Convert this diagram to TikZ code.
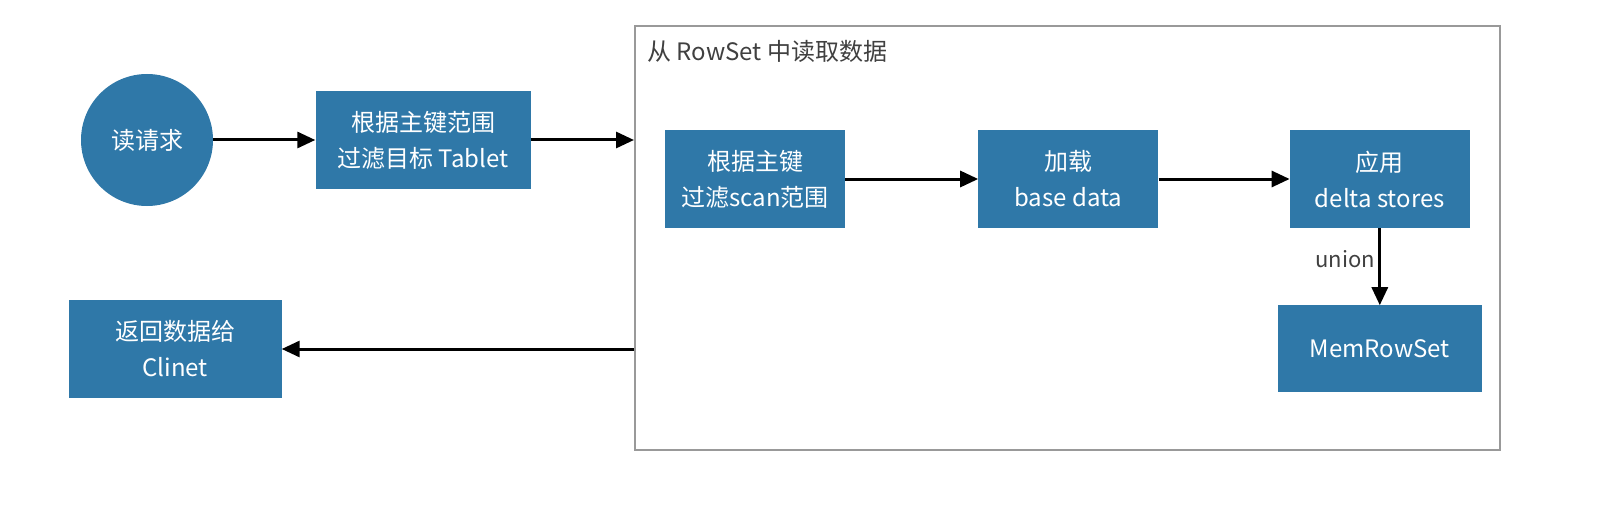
\documentclass[tikz,border=0pt]{standalone}
\usepackage{fontspec}
\setmainfont{Noto Sans CJK SC}
\usetikzlibrary{arrows.meta,positioning}
\definecolor{kuduBlue}{HTML}{2F78A8}

\begin{document}
\begin{tikzpicture}[x=1pt, y=-1pt,
		boxtext/.style = {align=center, inner sep=2pt, text=white, font=\fontsize{24}{36}\selectfont},
		stepbox/.style = {boxtext, rectangle, fill=kuduBlue, minimum width=180pt, minimum height=98pt},
		startnode/.style = {boxtext, circle, fill=kuduBlue, minimum size=132pt},
		flow/.style = {-{Triangle[length=18pt,width=16pt]}, line width=3pt, black},
		note/.style = {font=\fontsize{22}{26}\selectfont, text=black!75},
	]
	\useasboundingbox (0,0) rectangle (1617,524);
	% outer flow
	\node [startnode] (req) at (147,140) {读请求};
	\node [stepbox, minimum width=215pt] (tablet) at (423,140) {根据主键范围\\过滤目标 Tablet};
	\node [stepbox, minimum width=213pt] (ret) at (175,349) {返回数据给\\Clinet};
	% rowset frame
	\node [draw=black!40, line width=2pt, minimum width=865pt, minimum height=424pt] (rowset) at (1067.5,238) {};
	\node [note, font=\fontsize{24}{28}\selectfont, anchor=north west, inner sep=0pt] (title) at ([shift={(13,15)}]rowset.north west) {从 RowSet 中读取数据};
	% inner steps
	\node [stepbox] (scan) at (755,179) {根据主键\\过滤scan范围};
	\node [stepbox, right=133pt of scan] (base) {加载\\base data};
	\node [stepbox, right=131pt of base] (delta) {应用\\delta stores};
	\node [stepbox, minimum width=204pt, minimum height=87pt, below=77pt of delta] (mem) {MemRowSet};

	\draw [flow] (req) -- (tablet);
	\draw [flow] (tablet) -- (tablet -| rowset.west);
	\draw [flow] (scan) -- (base);
	\draw [flow] (base) -- (delta);
	\draw [flow] (delta) -- node [note, left, pos=0.4] {union} (mem);
	\draw [flow] (rowset.west |- ret) -- (ret);
\end{tikzpicture}
\end{document}
